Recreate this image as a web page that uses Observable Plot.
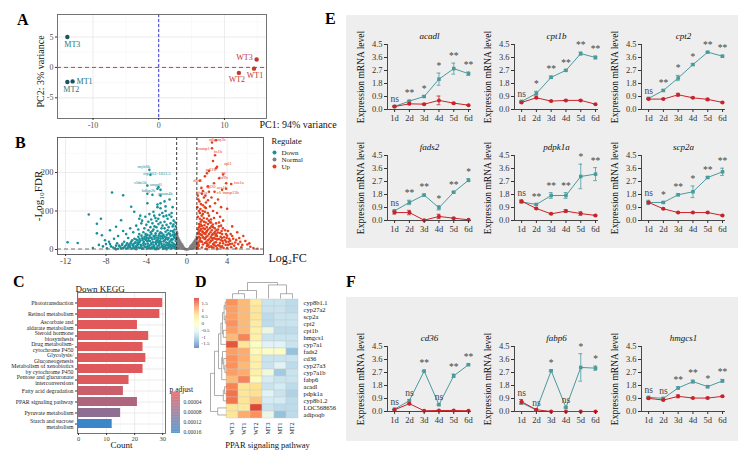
<!DOCTYPE html>
<html><head><meta charset="utf-8">
<script src="https://cdn.jsdelivr.net/npm/d3@7"></script>
<script src="https://cdn.jsdelivr.net/npm/@observablehq/plot@0.6"></script>
<style>
body{margin:0;background:#fff;}
#root{position:relative;width:755px;height:459px;overflow:hidden;background:#fff;font-family:"Liberation Serif",serif;}
.lab{position:absolute;font-weight:bold;font-size:16px;line-height:16px;font-family:"Liberation Serif",serif;color:#000;}
.box{position:absolute;background:#eeeeee;}
</style></head>
<body><div id="root"></div>
<script>
// ================= DATA =================
// Panel A – PCA
const pcaSample = ["MT1","MT2","MT3","WT1","WT2","WT3"];
const pcaPC1 = [-13.1,-13.9,-13.9,14.5,12.2,14.9];
const pcaPC2 = [-2.3,-2.4,5.0,-0.2,-0.9,1.3];

// Panel B – volcano ([log2FC, -log10FDR])
const volcanoDown = [[-1.1,2],[-1.2,8],[-1.3,15],[-1.1,22],[-1.2,30],[-1.4,38],[-1.3,45],[-1.5,5],[-1.6,12],[-1.7,20],[-1.5,27],[-1.6,35],[-1.8,42],[-1.9,50],[-2.0,3],[-2.1,10],[-1.9,17],[-2.2,24],[-2.0,31],[-2.3,38],[-2.1,46],[-2.4,6],[-2.5,14],[-2.3,21],[-2.6,28],[-2.4,34],[-2.7,41],[-2.5,55],[-2.8,2],[-2.9,9],[-2.7,16],[-3.0,23],[-2.8,30],[-3.1,37],[-2.9,48],[-3.2,5],[-3.3,12],[-3.1,19],[-3.4,26],[-3.2,33],[-3.5,40],[-3.3,52],[-3.6,3],[-3.7,10],[-3.5,17],[-3.8,24],[-3.6,31],[-3.9,38],[-4.0,6],[-4.1,14],[-3.9,21],[-4.2,28],[-4.0,35],[-4.3,45],[-4.4,2],[-4.5,9],[-4.3,16],[-4.6,23],[-4.4,30],[-4.7,40],[-4.8,5],[-4.9,12],[-4.7,19],[-5.0,26],[-4.8,33],[-5.2,3],[-5.3,10],[-5.1,17],[-5.4,24],[-5.6,6],[-5.7,13],[-5.5,20],[-5.8,30],[-6.0,2],[-6.1,9],[-5.9,16],[-6.3,4],[-6.4,12],[-6.6,7],[-6.8,2],[-7.0,10],[-7.3,5],[-7.6,14],[-7.9,3],[-8.3,8],[-9.3,4],[-8.7,12],[-7.7,20],
[-1.05,5],[-1.15,12],[-1.25,4],[-1.35,9],[-1.45,18],[-1.55,3],[-1.65,7],[-1.75,14],[-1.85,4],[-1.95,11],[-2.05,18],[-2.15,4],[-2.25,13],[-2.35,2],[-2.45,9],[-2.55,20],[-2.65,5],[-2.75,11],[-2.85,19],[-2.95,4],[-3.05,14],[-3.15,1],[-3.25,8],[-3.35,19],[-3.45,6],[-3.55,13],[-3.65,22],[-3.75,4],[-3.85,15],[-3.95,2],[-4.05,25],[-4.15,7],[-4.25,20],[-4.35,3],[-4.55,12],[-4.65,4],[-4.85,18],[-5.05,8],[-5.25,15],[-5.45,2],[-5.65,9],[-5.85,4],[-6.2,20],[-6.5,3],[-6.9,16],[-1.1,60],[-1.2,36],[-1.4,26],[-1.6,48],[-1.8,30],[-2.2,55],[-2.6,45],[-3.0,58],[-3.4,48],[-3.8,50],
[-1.08,28],[-1.18,40],[-1.28,33],[-1.38,48],[-1.48,11],[-1.58,24],[-1.68,40],[-1.78,8],[-1.88,26],[-1.98,38],[-2.08,27],[-2.18,33],[-2.28,7],[-2.38,29],[-2.48,42],[-2.58,34],[-2.68,22],[-2.78,36],[-2.88,25],[-2.98,31],[-3.08,42],[-3.18,28],[-3.28,35],[-3.38,3],[-3.48,30],[-3.58,45],[-3.68,36],[-3.78,29],[-3.88,8],[-3.98,30],[-4.08,40],[-4.18,33],[-4.28,11],[-4.38,25],[-4.48,36],[-4.58,5],[-4.68,28],[-4.78,14],[-4.88,24],[-4.98,6],[-5.08,19],[-5.18,28],[-5.28,5],[-5.38,12],[-5.58,16],[-5.78,8],[-5.98,12],[-6.18,6],[-6.38,15],[-6.7,10],[-7.1,3],[-7.5,8],[-8.0,14],[-1.12,70],[-1.32,65],[-1.52,85],[-1.72,90],[-2.02,88],[-2.42,95],[-2.82,80],[-3.22,88],[-3.52,78],[-4.42,75],[-2.1,112],
[-1.2,52],[-1.4,60],[-1.6,68],[-1.3,75],[-1.8,58],[-2.0,64],[-2.2,72],[-1.9,80],[-2.4,62],[-2.6,70],[-2.3,86],[-2.8,66],[-3.0,74],[-2.7,90],[-3.2,60],[-3.4,68],[-3.1,82],[-3.6,58],[-3.8,72],[-4.0,64],[-4.2,55],[-4.5,68],[-4.8,52],[-5.0,62],[-5.3,45],[-5.6,55],[-6.0,40],[-6.3,48],[-6.8,35],[-7.2,28],[-1.5,95],[-2.1,100],[-2.9,110],[-3.3,98],[-2.6,120],[-3.7,92],[-4.1,85],[-4.6,88],[-5.5,111],[-5.2,98],[-4.7,80],[-3.9,120],[-2.9,117],[-2.6,107],[-6.5,76],[-7.0,59],[-7.6,50],[-8.1,24],[-8.4,37],[-8.9,42],[-8.9,67],[-8.5,80],[-9.7,91],[-10.8,17],[-11.8,19],[-7.4,148],[-6.3,141],[-3.7,207],[-3.6,194],[-3.9,166],[-2.8,162],[-2.9,158],[-2.6,155],[-3.9,145],[-3.4,142],[-2.6,140],[-1.7,130],[-2.2,125],[-1.4,110]];
const volcanoUp = [[1.1,3],[1.2,10],[1.1,18],[1.3,25],[1.2,33],[1.1,41],[1.3,49],[1.2,57],[1.4,65],[1.5,5],[1.6,13],[1.4,21],[1.7,29],[1.5,37],[1.6,45],[1.8,53],[1.5,61],[1.7,72],[1.9,2],[2.0,9],[1.8,17],[2.1,24],[1.9,32],[2.2,40],[2.0,48],[2.3,56],[2.1,66],[2.4,78],[2.2,88],[2.5,6],[2.6,14],[2.4,22],[2.7,30],[2.5,38],[2.8,46],[2.6,58],[2.9,68],[3.0,3],[3.1,11],[2.9,19],[3.2,27],[3.0,35],[3.3,43],[3.1,52],[3.4,62],[3.5,8],[3.6,16],[3.4,24],[3.7,32],[3.5,40],[3.8,50],[4.0,4],[4.1,12],[3.9,20],[4.2,28],[4.0,36],[4.4,6],[4.5,15],[4.3,23],[4.7,10],[4.9,3],[5.1,14],[5.4,6],[5.8,22],[6.0,13],[6.3,7],[6.6,4],[7.0,2],[1.3,80],[1.6,92],[1.2,100],[1.9,108],[1.4,118],[2.1,128],[1.7,135],[2.6,100],[2.3,112],[3.0,95],[2.8,120],[3.3,85],[3.6,75],[4.0,106],[4.5,60],[5.0,45],[1.1,140],[1.5,145],
[1.05,6],[1.15,14],[1.25,21],[1.35,30],[1.45,38],[1.55,47],[1.65,55],[1.75,63],[1.85,40],[1.95,20],[2.05,35],[2.15,12],[2.25,28],[2.35,45],[2.45,60],[2.55,25],[2.65,5],[2.75,18],[2.85,36],[2.95,50],[3.05,27],[3.25,10],[3.35,33],[3.45,48],[3.55,22],[3.65,4],[3.85,12],[3.95,30],[4.15,20],[4.35,40],[4.6,28],[4.8,18],[5.2,30],[5.5,12],[1.1,85],[1.3,95],[1.5,76],[1.8,98],[2.0,80],[2.4,70],[2.7,82],[3.2,70],[1.05,110],[1.25,125],[1.6,115],[1.9,122],
[1.08,30],[1.18,45],[1.28,60],[1.38,72],[1.48,88],[1.58,100],[1.68,82],[1.78,110],[1.88,70],[1.98,58],[2.08,95],[2.18,75],[2.28,18],[2.38,33],[2.48,50],[2.58,65],[2.68,42],[2.78,55],[2.88,9],[2.98,26],[3.08,44],[3.18,60],[3.28,17],[3.38,6],[3.48,30],[3.58,55],[3.78,24],[3.88,40],[4.08,48],[4.28,14],[4.5,35],[4.9,25],[5.3,20],[5.6,35],[6.2,16],[1.15,130],[1.35,105],[1.45,160],[1.85,140],[2.2,150],[2.45,135],[2.75,150],[3.1,130],[3.4,110],[1.12,52],[1.22,66],[1.32,40],[1.42,53],[1.52,20],[1.62,32],[1.72,42],[1.82,27],[1.92,45],[2.02,15],[2.12,52],[2.22,6],[2.32,70],[2.42,8],[2.52,30],[2.62,40],[2.72,12],[2.82,28],[2.92,40],
[2.9,284],[2.5,278],[2.5,263],[2.8,245],[2.9,211],[2.2,204],[2.0,198],[3.6,195],[3.2,185],[1.3,179],[2.1,164],[3.9,172],[3.5,155],[3.9,158],[1.6,152],[4.4,170],[3.0,215],[2.6,230],[1.8,190],[2.7,172]];
const volcanoNormal = [[-1.0,2],[-1.0,10],[-0.95,18],[-1.0,26],[-0.98,34],[-0.95,42],[-0.9,5],[-0.9,14],[-0.88,22],[-0.85,30],[-0.8,3],[-0.8,10],[-0.78,18],[-0.75,25],[-0.7,6],[-0.7,14],[-0.65,20],[-0.6,3],[-0.6,10],[-0.55,15],[-0.5,2],[-0.5,8],[-0.45,12],[-0.4,4],[-0.35,7],[-0.3,2],[-0.25,4],[-0.2,1],[-0.1,0.5],[0,0.2],[0.1,0.5],[0.2,1],[0.25,3],[0.3,2],[0.35,6],[0.4,4],[0.45,9],[0.5,2],[0.5,7],[0.55,12],[0.6,3],[0.6,9],[0.65,15],[0.7,5],[0.7,12],[0.75,18],[0.8,3],[0.8,10],[0.85,20],[0.9,6],[0.9,14],[0.95,24],[1.0,4],[1.0,12],[1.0,28],[-0.97,38],[-0.92,26],[-0.83,16],[0.92,19],[0.97,8],
[-0.99,46],[-0.96,30],[-0.93,35],[-0.9,20],[-0.87,8],[-0.82,24],[-0.77,12],[-0.72,20],[-0.67,10],[-0.62,16],[-0.57,6],[-0.52,12],[-0.47,5],[-0.42,9],[-0.37,3],[0.38,9],[0.43,5],[0.48,11],[0.53,4],[0.58,14],[0.63,7],[0.68,18],[0.73,9],[0.78,22],[0.83,13],[0.88,26],[0.93,17],[0.98,33],[0.96,2],[-5,0.5],[-3,0.8],[-2,0.4],[2,0.5],[3,0.6],[-7,0.3]];
const downLabels = ["myh6b","zfp36l1-1833.5","cldn5b","ampd1","hdbp2b","gpam4b"];
const downLabelX = [-4.26,-2.97,-4.6,-3.07,-3.8,-2.13];
const downLabelY = [216,197,174,169,153,145];
const upLabels = ["adipoq1b","cnmp1","fn1b","apl1","pdl1b","cp","hf9b","dho6","fos1a","fgl20","acs1b","bhd1a","c6","mmp13b"];
const upLabelX = [3.02,1.68,3.07,4.06,2.38,3.66,3.66,1.09,5.15,2.38,3.47,1.49,3.17,4.36];
const upLabelY = [286,262,255,223,208,200,187,179,174,164,161,148,148,148];
const regulateLevels = ["Down","Normal","Up"];

// Panel C – Down KEGG
const keggTerms = ["Phototransduction","Retinol metabolism","Ascorbate and\naldarate metabolism","Steroid hormone\nbiosynthesis","Drug metabolism-\ncytochrome P450","Glycolysis/\nGluconeogenesis","Metabolism of xenobiotics\nby cytochrome P450","Pentose and glucuronate\ninterconversions","Fatty acid degradation","PPAR signaling pathway","Pyruvate metabolism","Starch and sucrose\nmetabolism"];
const keggCount = [30,29,21,25,23,24,23,18,16,21,15,12];
const keggPadj = [0.000001,0.000001,0.000002,0.000002,0.000003,0.000003,0.000004,0.000006,0.000025,0.00005,0.00008,0.00016];
const padjTicks = [0.00004,0.00008,0.00012,0.00016];

// Panel D – heatmap
const heatSamples = ["WT3","WT1","WT2","MT3","MT1","MT2"];
const heatGenes = ["cyp8b1.1","cyp27a2","scp2a","cpt2","cpt1b","hmgcs1","cyp7a1","fads2","cd36","cyp27a3","cyp7a1b","fabp6","acadl","pdpk1a","cyp8b1.2","LOC568656","adipoqb"];
const heatZ = [
 [1.2,0.9,0.4,-0.8,-0.8,-0.9],
 [1.1,0.9,0.5,-0.8,-0.8,-0.9],
 [1.1,0.9,0.5,-0.9,-0.8,-0.8],
 [1.2,0.9,0.4,-0.9,-0.8,-0.8],
 [1.1,0.9,0.3,-0.4,-0.9,-0.9],
 [0.9,1.3,0.3,-0.8,-0.8,-0.8],
 [1.6,0.5,-0.1,-0.6,-0.6,-0.8],
 [1.1,1.0,0.1,-0.1,-0.1,-1.2],
 [1.2,1.0,0.3,-0.8,-0.8,-0.8],
 [1.2,0.9,0.3,-0.8,-0.6,-0.9],
 [1.1,1.0,0.3,-0.3,-1.1,-0.8],
 [0.9,1.3,0.1,-0.7,-0.8,-0.8],
 [1.3,0.5,0.6,-0.8,-0.7,-0.9],
 [1.4,0.5,0.6,-0.6,-0.8,-1.0],
 [1.4,0.5,0.8,-0.7,-0.7,-0.9],
 [0.5,0.4,1.7,-0.8,-0.9,-0.9],
 [0.5,1.0,1.2,-0.4,-1.2,-0.9]];
const heatTicks = [-1.5,-1,-0.5,0,0.5,1,1.5];
// hclust-style merges: negative = leaf (1-based), positive = earlier merge; third = height
const colMerges = [[-1,-2,0.3],[1,-3,0.5],[-5,-6,0.3],[-4,3,0.85],[2,4,1.0]];
const rowMerges = [[-1,-2,0.08],[-3,-4,0.08],[1,2,0.15],[-5,-6,0.2],[3,4,0.25],[5,-7,0.35],[-10,-11,0.1],[-9,7,0.17],[-8,8,0.25],[9,-12,0.3],[6,10,0.5],[-13,-14,0.12],[12,-15,0.2],[11,13,0.75],[-16,-17,0.55],[14,15,1.0]];

// Panels E/F – qPCR time courses (teal = a, red = b)
const days = [1,2,3,4,5,6];
const yTicksQ = [0,0.9,1.8,2.7,3.6,4.5];
const acadl  = {a:[0.21,0.58,0.9,2.1,2.83,2.48],   ae:[0.03,0.05,0.06,0.42,0.38,0.12], b:[0.21,0.39,0.37,0.63,0.44,0.3],  be:[0.03,0.05,0.05,0.3,0.05,0.03],  sig:["ns","**","*","*","**","**"]};
const cpt1b  = {a:[0.56,1.11,2.23,2.71,3.87,3.6],  ae:[0.06,0.15,0.08,0.06,0.1,0.1],   b:[0.49,0.81,0.58,0.63,0.63,0.37], be:[0.05,0.05,0.04,0.04,0.04,0.03], sig:["ns","*","**","**","**","**"]};
const cpt2   = {a:[0.77,1.32,2.18,3.11,3.97,3.69], ae:[0.04,0.06,0.18,0.06,0.04,0.06], b:[0.72,0.72,1.02,0.81,0.7,0.49],  be:[0.03,0.03,0.1,0.04,0.08,0.04],  sig:["ns","**","*","*","**","**"]};
const fads2  = {a:[0.67,1.25,1.76,0.88,1.96,2.79], ae:[0.05,0.15,0.06,0.15,0.04,0.1],  b:[0.55,0.55,0.02,0.28,0.16,0.05], be:[0.1,0.15,0.02,0.15,0.04,0.02],  sig:["ns","**","**","*","**","*"]};
const pdpk1a = {a:[1.29,1.11,1.73,1.73,3.05,3.21], ae:[0.08,0.05,0.2,0.2,0.85,0.45],   b:[1.34,0.83,0.46,0.65,0.48,0.35], be:[0.08,0.04,0.04,0.1,0.12,0.04],  sig:["ns","**","**","**","*","**"]};
const scp2a  = {a:[1.25,1.25,1.78,1.99,2.98,3.37], ae:[0.15,0.05,0.06,0.4,0.06,0.25],  b:[1.25,0.81,0.55,0.55,0.55,0.35], be:[0.06,0.03,0.03,0.03,0.03,0.03], sig:["ns","*","**","*","**","**"]};
const cd36   = {a:[0.16,0.75,2.8,0.47,2.47,3.24],  ae:[0.03,0.06,0.05,0.05,0.12,0.04], b:[0.12,0.54,0.05,0.07,0.07,0.05], be:[0.02,0.04,0.02,0.02,0.02,0.02], sig:["ns","ns","**","ns","**","**"]};
const fabp6  = {a:[0.6,0.1,2.82,0.28,3.05,3.0],    ae:[0.08,0.02,0.05,0.04,0.95,0.15], b:[0.68,0.12,0.0,0.0,0.0,0.0],     be:[0.15,0.02,0.01,0.01,0.01,0.01], sig:["ns","ns","*","ns","*","*"]};
const hmgcs1 = {a:[0.98,0.91,1.63,2.07,1.72,2.12], ae:[0.05,0.04,0.08,0.1,0.08,0.1],   b:[0.91,0.79,1.05,0.93,0.93,1.05], be:[0.05,0.04,0.1,0.04,0.05,0.04],  sig:["ns","ns","**","**","*","**"]};

// ================= RENDER =================
const FONT = "Liberation Serif, Times New Roman, serif";
const root = document.getElementById("root");
function place(node, left, top) {
  node.style.position = "absolute";
  node.style.left = left + "px";
  node.style.top = top + "px";
  root.appendChild(node);
}
function baseStyle(size) {
  return {fontFamily: FONT, fontSize: size + "px", background: "transparent", overflow: "visible", color: "#333"};
}
function addDiv(cls, text, left, top, w, h) {
  const d = document.createElement("div");
  d.className = cls;
  if (text) d.textContent = text;
  d.style.left = left + "px"; d.style.top = top + "px";
  if (w) { d.style.width = w + "px"; d.style.height = h + "px"; }
  root.appendChild(d);
}

// grey boxes for E and F
addDiv("box", "", 346, 15, 392, 233);
addDiv("box", "", 346, 297, 392, 144);

// ---- Panel A
const MT_DOT = "#1c5560", MT_TXT = "#23737d", WT_COL = "#c2382f";
const pca = pcaSample.map((s, i) => ({s, x: pcaPC1[i], y: pcaPC2[i], mt: s.startsWith("MT")}));
const pcaLabelLayout = {MT1:[4,0,"start"], MT2:[-4,7,"start"], MT3:[-3,7,"start"], WT1:[1,7,"middle"], WT2:[-2,7,"middle"], WT3:[-4,-2,"end"]};
place(Plot.plot({
  width: 340, height: 135, marginLeft: 57, marginRight: 74, marginTop: 14, marginBottom: 17,
  style: baseStyle(8),
  x: {domain: [-15.4, 16.4]}, y: {domain: [-8.4, 8.7]},
  marks: [
    Plot.ruleX([-15,-5,5,15], {stroke: "#f3f3f3", strokeWidth: 0.5}),
    Plot.ruleY([-7.5,-2.5,2.5,7.5], {stroke: "#f3f3f3", strokeWidth: 0.5}),
    Plot.ruleX([-10,0,10], {stroke: "#e6e6e6", strokeWidth: 0.8}),
    Plot.ruleY([-5,0,5], {stroke: "#e6e6e6", strokeWidth: 0.8}),
    Plot.ruleX([0], {stroke: "#3c3ce0", strokeDasharray: "3,2", strokeWidth: 1}),
    Plot.ruleY([0], {stroke: "#d43c3c", strokeDasharray: "4,3", strokeWidth: 1}),
    Plot.frame({stroke: "#666", strokeWidth: 0.9}),
    Plot.axisX({ticks: [-10,0,10], tickSize: 2, tickPadding: 2, tickFormat: d => String(d), label: null, fill: "#555"}),
    Plot.axisY({ticks: [-5,0,5], tickSize: 2, tickPadding: 2, tickFormat: d => String(d), label: null, fill: "#555"}),
    Plot.dot(pca, {x: "x", y: "y", r: 2.2, fill: d => d.mt ? MT_DOT : WT_COL}),
    ...pcaSample.map(s => {
      const [dx, dy, anchor] = pcaLabelLayout[s];
      return Plot.text(pca.filter(d => d.s === s), {x: "x", y: "y", text: "s", dx, dy, textAnchor: anchor, fontSize: 8,
        fill: d => d.mt ? MT_TXT : WT_COL});
    }),
    Plot.text(["PC1: 94% variance"], {text: d => d, frameAnchor: "bottom-right", dx: -7, dy: 9, textAnchor: "start", fontSize: 10, fill: "#111"}),
    Plot.text(["PC2: 3% variance"], {text: d => d, frameAnchor: "left", textAnchor: "middle", dx: -17, dy: 5, rotate: -90, fontSize: 10, fill: "#111"})
  ]
}), 0, 0);

// ---- Panel B
const DOWN = "#17909a", UP = "#e3401d", NORM = "#7f7f7f";
place(Plot.plot({
  width: 340, height: 140, marginLeft: 57, marginRight: 77, marginTop: 7, marginBottom: 16,
  style: baseStyle(8.5),
  x: {domain: [-12.8, 7.6]}, y: {domain: [-13, 291]},
  marks: [
    Plot.ruleX([-10,-6,-2,2,6], {stroke: "#f3f3f3", strokeWidth: 0.5}),
    Plot.ruleY([50,150,250], {stroke: "#f3f3f3", strokeWidth: 0.5}),
    Plot.ruleX([-12,-8,-4,0,4], {stroke: "#e6e6e6", strokeWidth: 0.8}),
    Plot.ruleY([0,100,200], {stroke: "#e6e6e6", strokeWidth: 0.8}),
    Plot.dot(volcanoNormal, {x: d => d[0], y: d => d[1], r: 1.3, fill: NORM}),
    Plot.dot(volcanoDown, {x: d => d[0], y: d => d[1], r: 1.3, fill: DOWN}),
    Plot.dot(volcanoUp, {x: d => d[0], y: d => d[1], r: 1.3, fill: UP}),
    Plot.ruleX([-1, 1], {stroke: "#222", strokeDasharray: "3,2", strokeWidth: 0.9}),
    Plot.ruleY([1.3], {stroke: "#666", strokeDasharray: "4,3", strokeWidth: 0.9}),
    Plot.text(downLabels, {x: (d, i) => downLabelX[i], y: (d, i) => downLabelY[i], text: d => d, fontSize: 4.5, fill: DOWN}),
    Plot.text(upLabels, {x: (d, i) => upLabelX[i], y: (d, i) => upLabelY[i], text: d => d, fontSize: 4.5, fill: UP}),
    Plot.frame({stroke: "#555", strokeWidth: 0.9}),
    Plot.axisX({ticks: [-12,-8,-4,0,4], tickSize: 2, tickPadding: 1, tickFormat: d => String(d), label: null, fill: "#444"}),
    Plot.axisY({ticks: [0,100,200], tickSize: 2, tickPadding: 2, tickFormat: d => String(d), label: null, fill: "#444"}),
    Plot.text(["Log\u2082FC"], {text: d => d, frameAnchor: "bottom-right", dx: 5, dy: 7, textAnchor: "start", fontSize: 12, fill: "#111"}),
    Plot.text(["-Log\u2081\u2080FDR"], {text: d => d, frameAnchor: "left", textAnchor: "middle", dx: -19, dy: 0, rotate: -90, fontSize: 11, fill: "#111"})
  ]
}), 0, 130);

// volcano legend
const regColor = {Down: DOWN, Normal: NORM, Up: UP};
place(Plot.plot({
  width: 70, height: 40, margin: 0, style: baseStyle(7),
  x: {domain: [0, 1], range: [6, 7], axis: null},
  y: {type: "point", domain: regulateLevels, range: [16, 31], padding: 0, axis: null},
  marks: [
    ...regulateLevels.map(l => Plot.dot([l], {x: 0, y: d => d, r: 2, fill: regColor[l]})),
    Plot.text(regulateLevels, {x: 0, y: d => d, text: d => d, dx: 7, textAnchor: "start", fontSize: 7, fill: "#222"}),
    Plot.text(["Regulate"], {text: d => d, frameAnchor: "top-left", dx: 3, dy: 6, textAnchor: "start", lineAnchor: "middle", fontSize: 8.5, fill: "#111"})
  ]
}), 268, 135);

// ---- Panel C
const padjColor = {type: "linear", domain: [0, 0.00016], range: ["#e35859", "#3a86c8"], interpolate: "rgb"};
const kegg = keggTerms.map((t, i) => ({t, c: keggCount[i], p: keggPadj[i]}));
place(Plot.plot({
  width: 220, height: 194, marginLeft: 77, marginRight: 55, marginTop: 27, marginBottom: 26,
  style: baseStyle(7),
  x: {domain: [-0.36, 31]},
  y: {domain: keggTerms, paddingInner: 0.2, paddingOuter: 0.05},
  color: padjColor,
  marks: [
    Plot.ruleX([5,15,25], {stroke: "#f3f3f3", strokeWidth: 0.5}),
    Plot.ruleX([0,10,20,30], {stroke: "#e6e6e6", strokeWidth: 0.8}),
    Plot.tickY(keggTerms, {y: d => d, stroke: "#e6e6e6", strokeWidth: 0.8}),
    Plot.barX(kegg, {x: "c", y: "t", fill: "p"}),
    Plot.frame({stroke: "#666", strokeWidth: 0.9}),
    Plot.axisX({ticks: [0,10,20,30], tickSize: 2, tickPadding: 1, tickFormat: d => String(d), label: null, fill: "#444", fontSize: 6.5}),
    Plot.axisY({tickSize: 2, tickPadding: 2, label: null, fill: "#222", fontSize: 5.8, lineHeight: 1.0}),
    Plot.text(["Down KEGG"], {text: d => d, frameAnchor: "top-left", dx: -2, dy: -7, textAnchor: "start", fontSize: 9, fill: "#111"}),
    Plot.text(["Count"], {text: d => d, frameAnchor: "bottom", dx: 0, dy: 14, fontSize: 9, fill: "#111"})
  ]
}), 0, 265);

// p.adjust colorbar
const padjSteps = d3.range(0, 0.000165, 0.000003);
place(Plot.plot({
  width: 45, height: 60, marginLeft: 6, marginRight: 30, marginTop: 14, marginBottom: 5,
  style: baseStyle(5.5),
  x: {domain: [0, 1], axis: null},
  y: {domain: [0, 0.000165], reverse: true},
  color: padjColor,
  marks: [
    Plot.rect(padjSteps, {x1: 0, x2: 1, y1: d => d, y2: d => d + 0.000003, fill: d => d}),
    Plot.axisY({anchor: "right", ticks: padjTicks, tickFormat: d => d.toFixed(5), tickSize: 0, tickPadding: 3, label: null, fill: "#333", fontSize: 5.5}),
    Plot.text(["p.adjust"], {text: d => d, frameAnchor: "top-left", dx: -2, dy: -6, textAnchor: "start", fontSize: 7.5, fill: "#111"})
  ]
}), 165, 378);

// ---- Panel D heatmap
const heatColor = {type: "linear", domain: [-1.85,-1.233,-0.617,0,0.617,1.233,1.85],
  range: ["#4575B4","#91BFDB","#E0F3F8","#FFFFBF","#FEE090","#FC8D59","#D73027"]};
const heatCells = [];
heatGenes.forEach((g, i) => heatSamples.forEach((s, j) => heatCells.push({g, s, z: heatZ[i][j]})));
place(Plot.plot({
  width: 150, height: 194, marginLeft: 36, marginRight: 42, marginTop: 33, marginBottom: 41,
  style: baseStyle(6.5),
  x: {domain: heatSamples, padding: 0},
  y: {domain: heatGenes, padding: 0},
  color: heatColor,
  marks: [
    Plot.cell(heatCells, {x: "s", y: "g", fill: "z", stroke: "#c9c9c9", strokeWidth: 0.4}),
    Plot.axisY({anchor: "right", tickSize: 0, tickPadding: 5, label: null, fill: "#111", fontSize: 6.5}),
    Plot.axisX({anchor: "bottom", tickSize: 0, tickPadding: 4, tickRotate: -90, label: null, fill: "#111", fontSize: 6}),
    Plot.text(["PPAR signaling pathway"], {text: d => d, frameAnchor: "bottom", dx: 5, dy: 29, fontSize: 8.5, fill: "#111"})
  ]
}), 190, 265);

function dendroSegments(merges) {
  const pos = [], hgt = [], segs = [];
  const get = k => k < 0 ? {p: -k - 0.5, h: 0} : {p: pos[k - 1], h: hgt[k - 1]};
  merges.forEach(([a, b, h], i) => {
    const A = get(a), B = get(b);
    segs.push({p1: A.p, h1: A.h, p2: A.p, h2: h});
    segs.push({p1: B.p, h1: B.h, p2: B.p, h2: h});
    segs.push({p1: A.p, h1: h, p2: B.p, h2: h});
    pos[i] = (A.p + B.p) / 2; hgt[i] = h;
  });
  return segs;
}
// column dendrogram
place(Plot.plot({
  width: 72, height: 17, margin: 0, marginTop: 1, style: baseStyle(6),
  x: {domain: [0, 6], axis: null}, y: {domain: [0, 1], axis: null},
  marks: [Plot.link(dendroSegments(colMerges), {x1: "p1", y1: "h1", x2: "p2", y2: "h2", stroke: "#8a8a8a", strokeWidth: 0.7})]
}), 226, 281);
// row dendrogram
place(Plot.plot({
  width: 17, height: 120, margin: 0, marginLeft: 1, style: baseStyle(6),
  x: {domain: [0, 1], reverse: true, axis: null}, y: {domain: [0, 17], reverse: true, axis: null},
  marks: [Plot.link(dendroSegments(rowMerges), {x1: "h1", y1: "p1", x2: "h2", y2: "p2", stroke: "#8a8a8a", strokeWidth: 0.7})]
}), 209, 298);
// heat colorbar
const heatSteps = d3.range(-1.85, 1.85, 0.05);
place(Plot.plot({
  width: 30, height: 58, marginLeft: 2, marginRight: 23, marginTop: 3, marginBottom: 5,
  style: baseStyle(5),
  x: {domain: [0, 1], axis: null}, y: {domain: [-1.85, 1.85]},
  color: heatColor,
  marks: [
    Plot.rect(heatSteps, {x1: 0, x2: 1, y1: d => d, y2: d => d + 0.05, fill: d => d + 0.025}),
    Plot.axisY({anchor: "right", ticks: heatTicks, tickFormat: d => String(d), tickSize: 0, tickPadding: 2, label: null, fill: "#333", fontSize: 5})
  ]
}), 192, 295);

// ---- Panels E/F
const TEAL = "#4a9a9c", RED = "#c8232a";
function qpcr(title, g) {
  const rows = (v, e) => days.map((d, i) => ({day: d, v: v[i], e: e[i]}));
  const A = rows(g.a, g.ae), B = rows(g.b, g.be);
  const sigRows = days.map((d, i) => ({day: d, top: Math.max(g.a[i] + g.ae[i], g.b[i] + g.be[i]), t: g.sig[i]}));
  const marks = [
    Plot.ruleY([0], {stroke: "#333", strokeWidth: 0.9}),
    Plot.ruleX([0.52], {stroke: "#333", strokeWidth: 0.9})
  ];
  for (const [S, c, sym] of [[A, TEAL, "square"], [B, RED, "circle"]]) {
    marks.push(Plot.ruleX(S, {x: "day", y1: d => d.v - d.e, y2: d => d.v + d.e, stroke: c, strokeWidth: 0.8}));
    marks.push(Plot.ruleY(S, {y: d => d.v + d.e, x1: d => d.day - 0.13, x2: d => d.day + 0.13, stroke: c, strokeWidth: 0.8}));
    marks.push(Plot.ruleY(S, {y: d => d.v - d.e, x1: d => d.day - 0.13, x2: d => d.day + 0.13, stroke: c, strokeWidth: 0.8}));
    marks.push(Plot.line(S, {x: "day", y: "v", stroke: c, strokeWidth: 1}));
    marks.push(Plot.dot(S, {x: "day", y: "v", fill: c, symbol: sym, r: 2}));
  }
  marks.push(
    Plot.text(sigRows, {x: "day", y: "top", text: "t", dy: -7, fontSize: 9.5, fill: "#444"}),
    Plot.axisX({ticks: days, tickFormat: d => d + "d", tickSize: 3, tickPadding: 2, label: null, fill: "#333", stroke: "#333"}),
    Plot.axisY({ticks: yTicksQ, tickFormat: d => d.toFixed(1), tickSize: 3, tickPadding: 2, label: null, fill: "#333", stroke: "#333"}),
    Plot.text([title], {text: d => d, frameAnchor: "top", dx: 0, dy: -12, fontSize: 9, fontStyle: "italic", fill: "#111"}),
    Plot.text(["Expression mRNA level"], {text: d => d, frameAnchor: "left", textAnchor: "middle", dx: -27, dy: 0, rotate: -90, fontSize: 9.5, fill: "#111"})
  );
  return Plot.plot({
    width: 130, height: 109, marginLeft: 40, marginRight: 6, marginTop: 22, marginBottom: 22,
    style: baseStyle(8.5),
    x: {domain: [0.52, 6.2]}, y: {domain: [0, 4.5]},
    marks
  });
}
const qpcrPanels = [
  ["acadl", acadl, 387, 44], ["cpt1b", cpt1b, 514, 44], ["cpt2", cpt2, 641, 44],
  ["fads2", fads2, 387, 155], ["pdpk1a", pdpk1a, 514, 155], ["scp2a", scp2a, 641, 155],
  ["cd36", cd36, 387, 346], ["fabp6", fabp6, 514, 346], ["hmgcs1", hmgcs1, 641, 346]
];
for (const [t, g, ax, ay] of qpcrPanels) place(qpcr(t, g), ax - 40, ay - 22);

// panel letters
addDiv("lab", "A", 17, 12); addDiv("lab", "B", 15, 135); addDiv("lab", "C", 13, 274);
addDiv("lab", "D", 195, 274); addDiv("lab", "E", 325, 11); addDiv("lab", "F", 346, 274);
</script></body></html>
